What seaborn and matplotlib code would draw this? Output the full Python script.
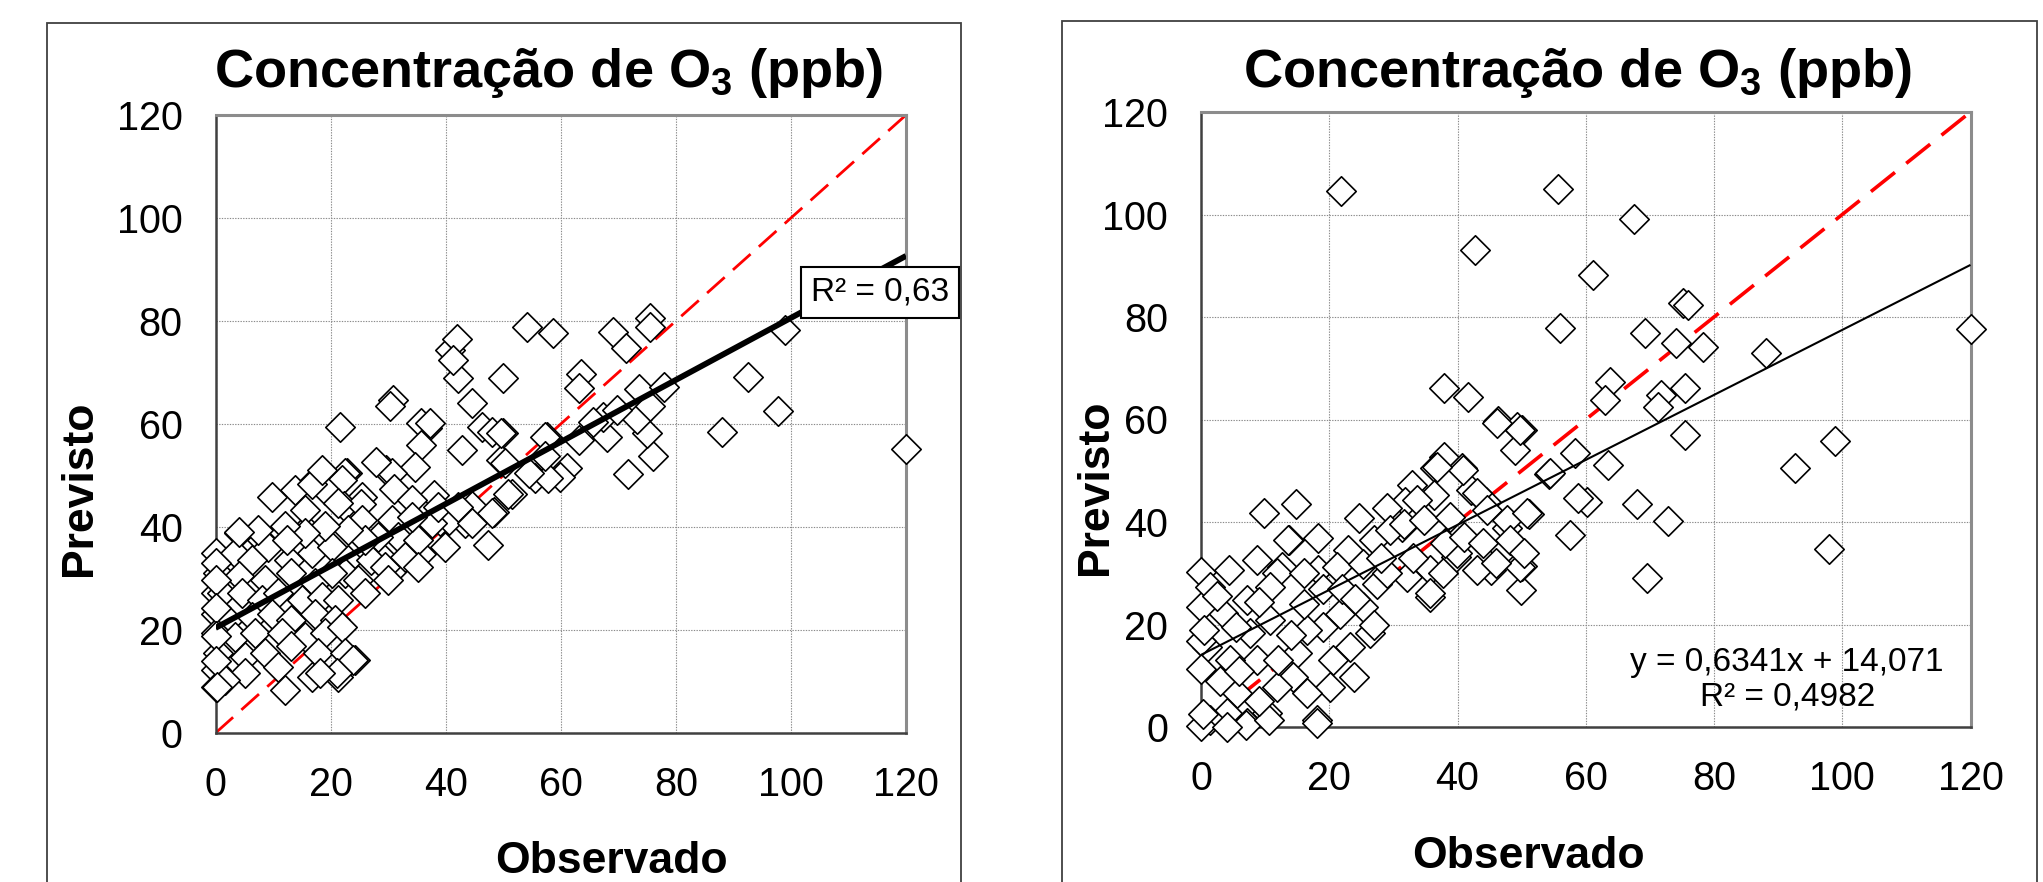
import numpy as np
import matplotlib
matplotlib.use("Agg")
import matplotlib.pyplot as plt
from matplotlib.patches import Rectangle
import seaborn as sns

# =========================================================
# DATA
# =========================================================
# left panel: observed / predicted O3 (ppb)
obs_a = [
    88.1, 120.0, 92.5, 97.7, 99.0, 75.5, 75.5, 69.0, 71.4, 73.6, 78.0, 76.1,
    71.7, 75.0, 73.3, 68.0, 67.4, 69.7, 75.5, 63.5, 63.1, 63.1, 61.0, 59.9,
    57.6, 58.6, 54.1, 55.5, 50.0, 50.0, 49.7, 51.5, 48.4, 47.4, 44.5, 46.3,
    42.8, 40.8, 41.9, 42.2, 41.3, 44.5, 43.4, 39.9, 39.0, 37.9, 36.8, 35.8,
    35.7, 34.6, 35.7, 33.5, 30.9, 30.3, 29.6, 30.6, 31.0, 29.0, 31.0, 21.6,
    22.9, 22.5, 21.9, 16.7, 13.8, 9.8, 19.0, 25.4, 22.4, 25.2, 15.7, 4.0,
    8.0, 9.2, 37.3, 48.0, 49.7, 50.3, 57.3, 57.8, 50.9, 48.0, 40.5, 54.5,
    57.3, 65.6,
    15.6, 21.3, 25.4, 30.6, 34.1, 31.8, 28.3, 0.0, 3.4, 6.3, 12.7, 16.7,
    20.2, 23.1, 27.1, 0.5, 4.0, 8.6, 13.2, 17.3, 22.5, 24.8, 29.5, 0.0,
    1.1, 4.6, 8.0, 10.9, 15.0, 18.5, 21.3, 0.0, 2.2, 6.3, 9.8, 13.2,
    17.3, 20.8, 0.0, 3.4, 6.9, 11.5, 15.6, 19.0, 21.9, 0.5, 5.1, 8.6,
    13.2, 17.9, 22.5, 24.2, 0.0, 5.1, 10.9, 16.7, 21.3, 0.0, 12.1, 1.7,
    0.0, 0.0, 0.0, 0.0, 0.0, 32.9, 35.2, 37.6, 34.1, 38.7, 42.2, 44.5,
    35.2, 30.0, 26.0, 20.2, 26.0, 23.1, 19.0, 15.6, 12.1, 7.4, 23.9, 21.1,
    18.2, 0.2, 4.1, 12.4, 16.8, 18.5, 27.9,
]
prev_a = [
    58.4, 55.2, 69.1, 62.5, 78.2, 80.5, 78.9, 77.9, 74.7, 66.8, 67.1, 53.7,
    50.2, 58.2, 61.0, 57.5, 61.4, 62.7, 63.4, 69.8, 67.0, 56.9, 51.4, 49.8,
    57.5, 77.6, 78.9, 49.5, 68.9, 58.2, 53.0, 46.5, 42.9, 36.5, 64.0, 59.5,
    55.0, 74.4, 76.6, 68.9, 72.4, 44.0, 40.7, 36.2, 41.2, 46.2, 59.3, 60.1,
    56.0, 51.6, 34.7, 38.5, 64.7, 63.4, 51.1, 50.4, 47.3, 34.1, 31.9, 59.5,
    50.5, 50.4, 49.1, 48.5, 47.2, 45.9, 47.2, 45.9, 44.0, 44.5, 39.6, 38.8,
    37.5, 36.2, 60.1, 58.5, 58.2, 52.4, 57.5, 49.5, 46.5, 42.7, 41.4, 50.5,
    53.8, 60.4,
    43.3, 44.6, 41.4, 41.4, 45.2, 38.1, 38.1, 34.9, 34.9, 33.6, 33.6, 34.9,
    36.2, 33.6, 33.6, 31.0, 30.4, 29.7, 31.0, 29.1, 31.0, 29.7, 32.3, 27.1,
    27.1, 27.1, 25.8, 27.1, 25.8, 26.5, 25.8, 23.2, 21.9, 22.6, 23.2, 21.9,
    23.2, 21.9, 19.4, 18.7, 19.4, 19.4, 18.7, 19.4, 20.6, 15.5, 14.8, 15.5,
    16.8, 15.5, 15.5, 14.2, 12.2, 11.6, 12.9, 10.9, 10.9, 9.0, 8.3, 10.3,
    33.0, 29.8, 24.3, 18.8, 13.9, 34.2, 37.5, 40.7, 42.0, 43.9, 43.9, 40.7,
    32.3, 29.7, 27.1, 31.0, 37.5, 39.4, 40.1, 38.8, 40.1, 39.4, 14.2, 11.6,
    11.6, 9.0, 39.1, 37.4, 48.4, 51.1, 52.7,
]

# right panel: observed / predicted O3 (ppb)
obs_b = [
    21.8, 55.6, 67.6, 42.7, 61.2, 75.2, 75.9, 120.0, 56.0, 69.2, 74.0, 78.3,
    88.1, 63.8, 63.0, 71.8, 75.4, 71.2, 75.5, 37.9, 41.7, 46.3, 50.1, 49.3,
    48.9, 98.8, 92.7, 98.0, 69.6, 72.9, 68.0, 60.2, 58.8, 57.6, 63.4, 58.3,
    54.3, 51.1, 49.9, 50.1, 37.9, 40.7, 36.5, 32.9, 36.3, 42.1, 44.5, 9.9,
    14.8, 24.6, 31.8, 29.0, 47.7, 47.3, 45.3, 39.7, 35.7, 35.7, 31.4, 27.0,
    23.0, 18.2, 13.8, 0.0, 4.3, 8.7, 12.6, 18.2,
    40.9, 36.8, 11.8, 16.0, 21.2, 25.3, 29.5, 33.7, 31.6, 34.7, 38.9, 43.0,
    44.6, 47.7, 50.8, 48.2, 49.8, 50.3, 35.7, 39.9, 43.0, 37.8, 32.1, 27.4,
    25.3, 26.4, 23.3, 23.8, 21.7, 19.1, 16.5, 20.6, 20.1, 18.1, 14.9, 14.4,
    16.5, 11.8, 10.3, 7.1, 5.6, 4.0, 1.4, 0.0, 8.7, 4.5, 0.9, 7.6,
    10.8, 3.5, 0.0, 7.1, 10.8, 1.4, 46.1, 49.8, 54.5, 0.0, 0.0, 0.3,
    7.0, 4.1, 10.6, 18.1, 9.1, 13.6,
    0.5, 2.5, 5.5, 3.0, 6.0, 9.0, 12.0, 14.0, 16.0, 19.0, 22.0, 24.0,
    27.0, 29.0, 33.0, 38.0, 41.0, 44.0, 46.0, 28.0,
]
prev_b = [
    104.5, 104.9, 99.1, 93.1, 88.2, 82.7, 82.4, 77.6, 77.8, 76.8, 74.9, 74.2,
    72.9, 67.4, 63.8, 64.8, 66.1, 62.5, 57.0, 66.1, 64.3, 59.7, 57.9, 58.6,
    54.0, 55.8, 50.6, 34.7, 29.0, 40.1, 43.6, 44.0, 44.6, 37.5, 51.1, 53.4,
    49.3, 41.5, 26.7, 31.4, 52.7, 50.5, 50.5, 47.2, 45.3, 46.2, 44.0, 41.7,
    43.6, 40.7, 44.0, 42.7, 38.8, 34.5, 30.6, 33.2, 30.6, 25.4, 39.1, 36.5,
    34.5, 36.8, 36.5, 30.3, 30.6, 32.6, 31.3, 30.6,
    50.1, 50.8, 30.0, 30.0, 31.3, 31.9, 38.4, 44.3, 39.7, 40.4, 41.0, 45.6,
    42.3, 40.4, 41.7, 36.5, 31.3, 33.9, 26.1, 33.9, 30.6, 30.0, 29.3, 28.0,
    23.5, 18.3, 15.7, 9.8, 22.0, 19.6, 18.9, 13.1, 7.9, 1.4, 14.4, 9.8,
    6.6, 7.9, 2.7, 0.7, 6.6, 2.7, 1.4, 0.1, 13.1, 13.1, 15.7, 18.3,
    20.9, 22.2, 23.5, 24.8, 27.4, 27.4, 59.3, 58.0, 49.5, 16.8, 11.3, 2.5,
    0.3, 0.0, 1.4, 0.8, 24.4, 36.5,
    19.0, 25.5, 19.5, 9.0, 11.0, 5.0, 13.0, 18.0, 24.0, 27.0, 27.0, 25.0,
    20.0, 30.0, 33.0, 36.0, 37.0, 36.0, 32.0, 33.0,
]

# 1:1 reference line and trend lines
diag = [0, 120]
trend_a = (0.602, 20.4)        # slope, intercept (left)
trend_b = (0.6341, 14.071)     # slope, intercept (right)

ticks = [0, 20, 40, 60, 80, 100, 120]
title = "Concentração de O$_3$ (ppb)"

# =========================================================
# STYLE
# =========================================================
sns.set_style("white")
plt.rcParams["font.family"] = ["Liberation Sans", "DejaVu Sans"]
plt.rcParams["text.color"] = "black"
plt.rcParams["xtick.labelcolor"] = "black"
plt.rcParams["ytick.labelcolor"] = "black"
plt.rcParams["mathtext.fontset"] = "custom"
plt.rcParams["mathtext.rm"] = "Liberation Sans:bold"
plt.rcParams["mathtext.bf"] = "Liberation Sans:bold"
plt.rcParams["mathtext.default"] = "bf"

W, H = 2043, 882


def fx(px):
    return px / W


def fy(py):
    return 1 - py / H


fig = plt.figure(figsize=(W / 100, H / 100), dpi=100)
fig.patch.set_facecolor("white")

panels = [
    dict(box=(215.5, 115, 906, 733), obs=obs_a, prev=prev_a, trend=trend_a,
         trend_lw=4.2, diag_lw=2.0, frame=(46.5, 23, 961),
         title_x=548, title_y=87, xl=(611, 873), yl=(80, 488)),
    dict(box=(1201, 112, 1970.5, 727), obs=obs_b, prev=prev_b, trend=trend_b,
         trend_lw=1.5, diag_lw=2.6, frame=(1062, 21, 2037),
         title_x=1577, title_y=87, xl=(1528, 868), yl=(1096, 487)),
]

for p in panels:
    x0, y0, x1, y1 = p["box"]
    ax = fig.add_axes([fx(x0), fy(y1), (x1 - x0) / W, (y1 - y0) / H])

    # grid
    ax.set_axisbelow(True)
    ax.grid(True, color="#8a8a8a", linestyle=(0, (1.2, 1.2)), linewidth=0.8)

    # 1:1 line under the markers
    ax.plot(diag, diag, color="#ff0000", linewidth=p["diag_lw"],
            dashes=(8.5, 4), zorder=2)

    sns.scatterplot(
        x=p["obs"],
        y=p["prev"],
        ax=ax,
        marker="D",
        s=225,
        color="white",
        edgecolor="black",
        linewidth=1.2,
        zorder=3,
        clip_on=False,
        legend=False
    )

    slope, icpt = p["trend"]
    tx = np.array(diag, dtype=float)
    ax.plot(tx, slope * tx + icpt, color="black",
            linewidth=p["trend_lw"], zorder=4, solid_capstyle="butt")

    ax.set_xlim(0, 120)
    ax.set_ylim(0, 120)
    ax.set_xticks(ticks)
    ax.set_yticks(ticks)
    ax.tick_params(axis="both", labelsize=28.5, length=8.6, width=1.4,
                   color="#404040", direction="out", pad=15.5)
    ax.tick_params(axis="y", pad=15)

    for side in ["left", "bottom"]:
        ax.spines[side].set_color("#404040")
        ax.spines[side].set_linewidth(1.8)
    for side in ["top", "right"]:
        ax.spines[side].set_color("#8c8c8c")
        ax.spines[side].set_linewidth(2.2)
        ax.spines[side].set_visible(True)

    # outer chart frame
    fl, ft, fr = p["frame"]
    fig.add_artist(Rectangle((fx(fl), fy(H + 10)), (fr - fl) / W,
                             (H + 10 - ft) / H, transform=fig.transFigure,
                             fill=False, edgecolor="#404040", linewidth=1.3))

    fig.text(fx(p["title_x"]), fy(p["title_y"]), title, fontsize=39,
             fontweight="bold", ha="center", va="baseline")
    fig.text(fx(p["xl"][0]), fy(p["xl"][1]), "Observado", fontsize=32,
             fontweight="bold", ha="center", va="baseline")
    fig.text(fx(p["yl"][0]), fy(p["yl"][1]), "Previsto", fontsize=32,
             fontweight="bold", ha="center", va="center", rotation=90)

# =========================================================
# ANNOTATIONS
# =========================================================
fig.text(fx(880), fy(292), "R² = 0,63", fontsize=24, ha="center",
         va="center",
         bbox=dict(boxstyle="square,pad=0.3", facecolor="white",
                   edgecolor="black", linewidth=1.5))

fig.text(fx(1787), fy(662), "y = 0,6341x + 14,071", fontsize=24,
         ha="center", va="center")
fig.text(fx(1788), fy(697), "R² = 0,4982", fontsize=24,
         ha="center", va="center")

fig.savefig("out.png", dpi=100, facecolor="white")
